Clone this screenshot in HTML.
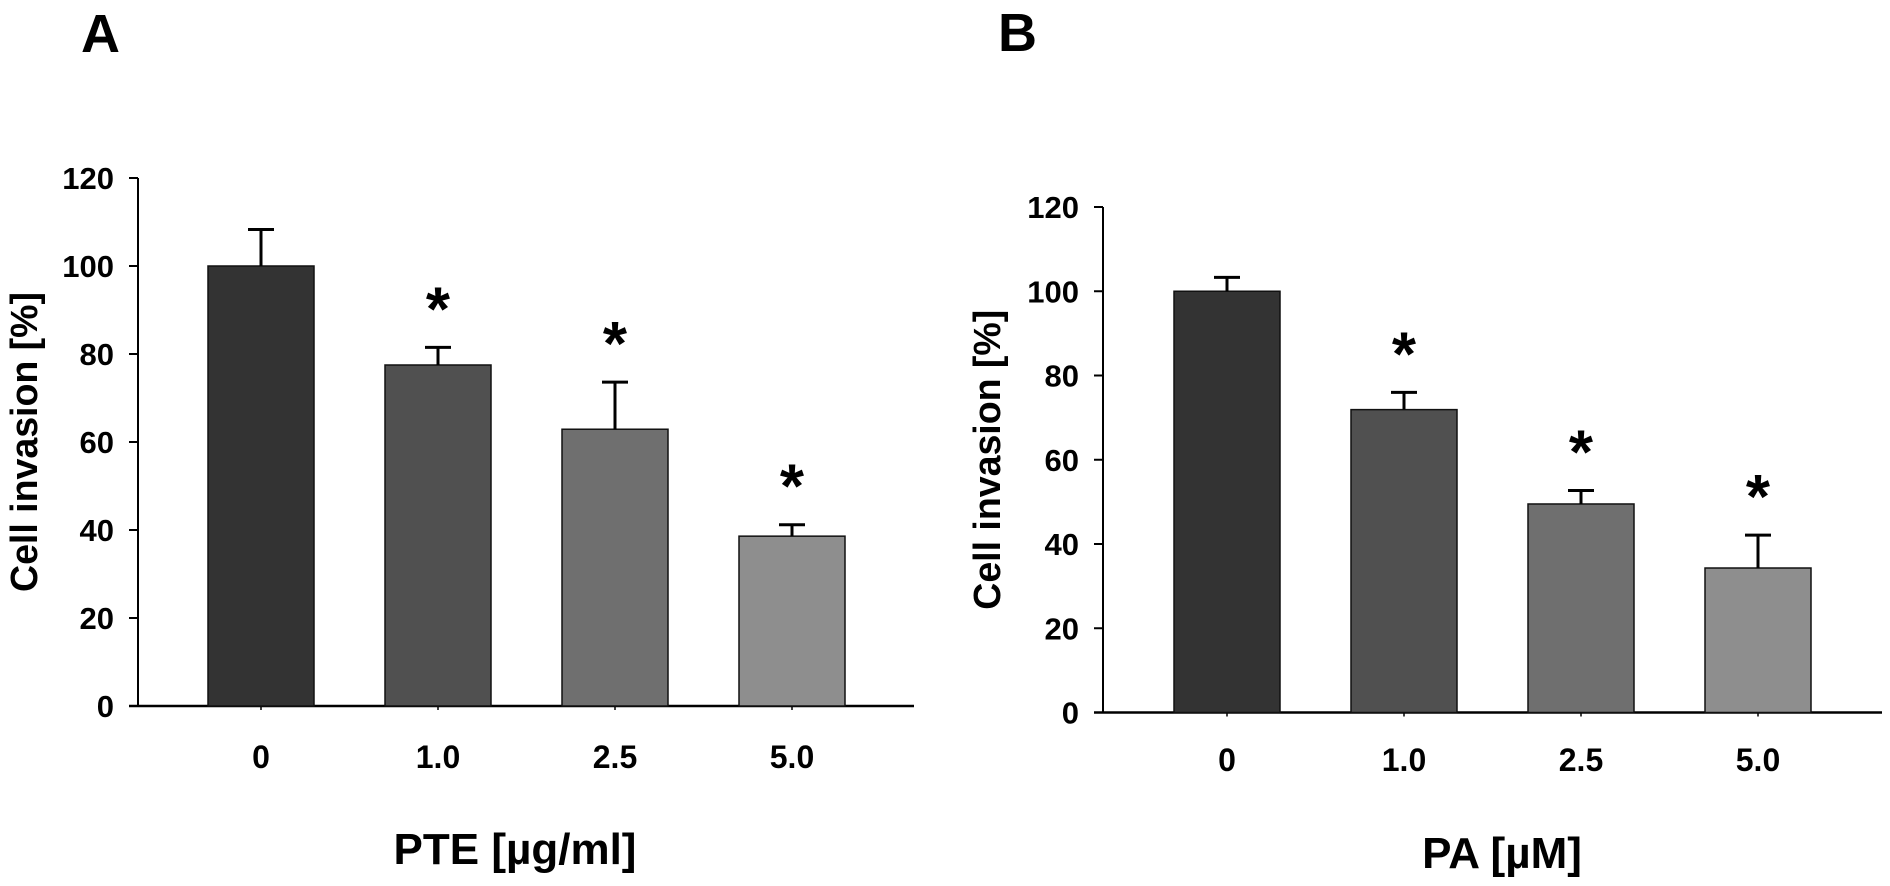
<!DOCTYPE html>
<html><head><meta charset="utf-8"><style>
html,body{margin:0;padding:0;background:#fff;}
svg{display:block;font-family:"Liberation Sans",Arial,sans-serif;font-weight:bold;}
</style></head><body>
<svg id="fig" width="1890" height="886" viewBox="0 0 1890 886" xmlns="http://www.w3.org/2000/svg">
<text x="81" y="52" font-size="54">A</text>
<text x="998" y="51" font-size="54">B</text>
</svg>
<script>
const categoriesA = ["0","1.0","2.5","5.0"];
const valuesA = [100, 77.5, 62.9, 38.6];
const errorsA = [8.3, 4.0, 10.7, 2.6];
const sigA = [false, true, true, true];
const categoriesB = ["0","1.0","2.5","5.0"];
const valuesB = [100, 71.9, 49.5, 34.3];
const errorsB = [3.3, 4.1, 3.2, 7.8];
const sigB = [false, true, true, true];
const yTicks = [0,20,40,60,80,100,120];
const fills = ["#333333","#505050","#6f6f6f","#8e8e8e"];

const NS="http://www.w3.org/2000/svg";
const svg=document.getElementById('fig');
function mk(tag,attrs,parent){const e=document.createElementNS(NS,tag);for(const k in attrs)e.setAttribute(k,attrs[k]);(parent||svg).appendChild(e);return e;}

function panel(p){
  const g=mk('g',{});
  
  
  const y=v=>p.y0-(v/120)*(p.y0-p.y120);
  const xc=i=>p.barX[i]+p.barW/2;
  const ya=mk('line',{x1:p.ax,y1:y(120),x2:p.ax,y2:p.y0,stroke:'#000','stroke-width':2},g);
  
  
  const xa=mk('line',{x1:p.ax-9,y1:p.y0,x2:p.xEnd,y2:p.y0,stroke:'#000','stroke-width':2.5},g);
  
  
  yTicks.forEach(t=>{
    mk('line',{x1:p.ax-9,y1:y(t),x2:p.ax,y2:y(t),stroke:'#000','stroke-width':2},g);
    const tl=mk('text',{x:p.ax-24,y:y(t)+11,'font-size':31,'text-anchor':'end'},g);
    tl.textContent=t;
    
    
  });
  p.cats.forEach((c,i)=>{
    mk('line',{x1:xc(i),y1:p.y0,x2:xc(i),y2:p.y0+4,stroke:'#000','stroke-width':1.5},g);
    const bar=mk('rect',{x:p.barX[i],y:y(p.vals[i]),width:p.barW,height:p.y0-y(p.vals[i]),fill:fills[i],stroke:'#111','stroke-width':1.5},g);
    
    
    const top=y(p.vals[i]+p.errs[i]);
    const eb=mk('path',{d:`M${xc(i)},${y(p.vals[i])}V${top}M${xc(i)-13},${top}H${xc(i)+13}`,stroke:'#000','stroke-width':3,fill:'none'},g);
    
    
    if(p.sig[i]){
      const s=mk('text',{x:xc(i),y:top-17,'font-size':62,'text-anchor':'middle'},g);
      s.textContent='*';
      
      
    }
    const xl=mk('text',{x:xc(i),y:p.xlabY,'font-size':32,'text-anchor':'middle'},g);
    xl.textContent=c;
    
    
  });
  const yt=mk('text',{x:0,y:0,'font-size':38,'text-anchor':'middle','dominant-baseline':'central',textLength:300,lengthAdjust:'spacingAndGlyphs',transform:`translate(${p.ytX},${(y(0)+y(120))/2+p.ytDy}) rotate(-90)`},g);
  yt.textContent='Cell invasion [%]';
  
  
  const xt=mk('text',{x:p.xtX,y:p.xtY,'font-size':44,'text-anchor':'middle'},g);
  xt.textContent=p.xtitle;
  
  
}
panel({id:'panel-a',cats:categoriesA,vals:valuesA,errs:errorsA,sig:sigA,ax:138,y0:706,y120:178,xEnd:914,
  barX:[208,385,562,739],barW:106,xlabY:768,ytX:25,ytDy:0,xtX:515,xtY:864,xtitle:'PTE [µg/ml]'});
panel({id:'panel-b',cats:categoriesB,vals:valuesB,errs:errorsB,sig:sigB,ax:1103,y0:712.5,y120:207,xEnd:1882,
  barX:[1174,1351,1528,1705],barW:106,xlabY:771,ytX:988,ytDy:0,xtX:1502,xtY:868,xtitle:'PA [µM]'});
</script>
</body></html>
